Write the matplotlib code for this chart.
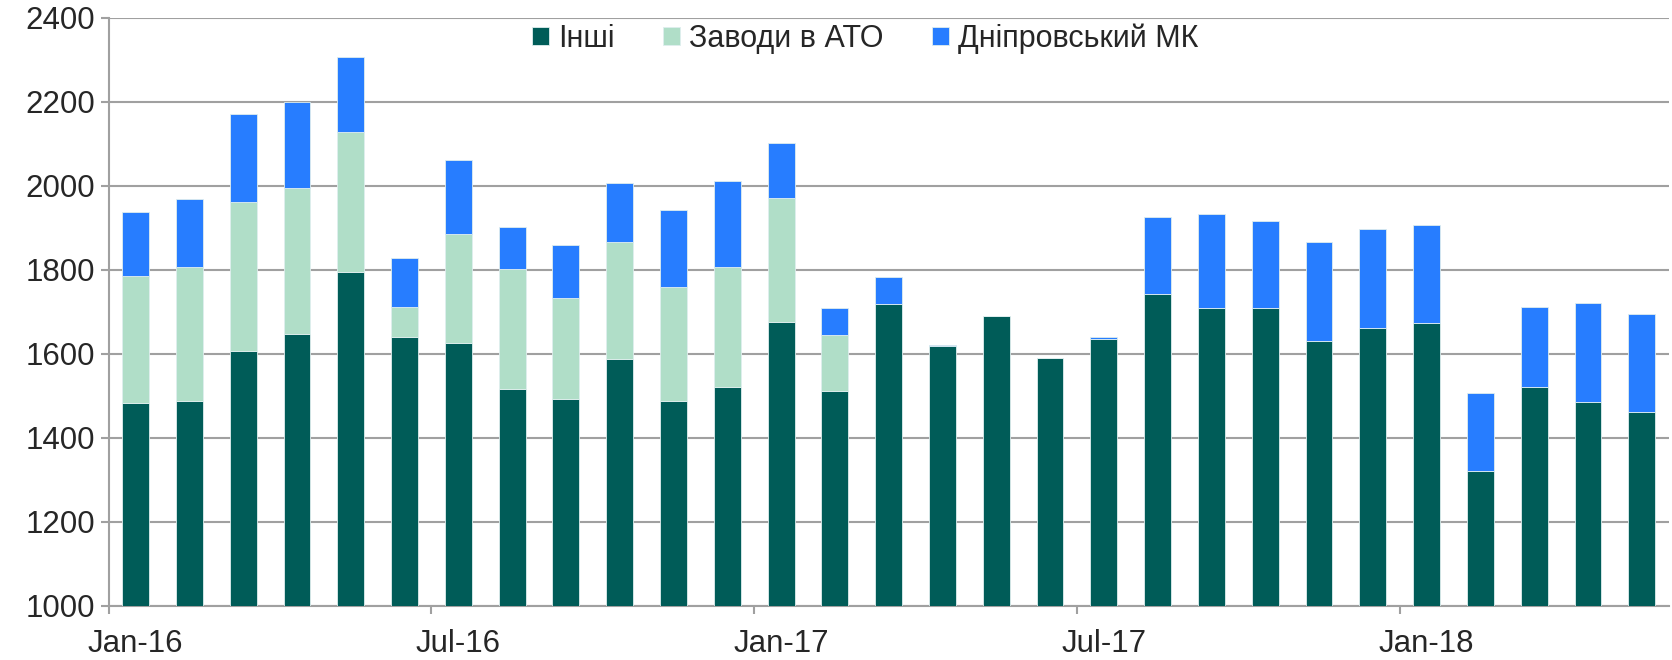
"""
Stacked monthly bars: Інші / Заводи в АТО / Дніпровський МК
"""
import numpy as np
import matplotlib
matplotlib.use("Agg")
import matplotlib.pyplot as plt

plt.rcParams['font.family'] = ['Liberation Sans', 'DejaVu Sans']

INSHI_COLOR = "#005c58"
ATO_COLOR = "#b0dec8"
DMK_COLOR = "#277dff"
GRID_COLOR = "#a0a0a0"
TEXT_COLOR = "#262626"

months = ["Jan-16", "Feb-16", "Mar-16", "Apr-16", "May-16", "Jun-16",
          "Jul-16", "Aug-16", "Sep-16", "Oct-16", "Nov-16", "Dec-16",
          "Jan-17", "Feb-17", "Mar-17", "Apr-17", "May-17", "Jun-17",
          "Jul-17", "Aug-17", "Sep-17", "Oct-17", "Nov-17", "Dec-17",
          "Jan-18", "Feb-18", "Mar-18", "Apr-18", "May-18"]

inshi = [1484, 1487, 1606, 1647, 1794, 1641, 1625, 1516, 1493, 1587,
         1487, 1522, 1675, 1512, 1718, 1619, 1689, 1590, 1635, 1743,
         1709, 1709, 1630, 1661, 1673, 1320, 1520, 1485, 1461]

zavody_ato = [302, 319, 356, 349, 334, 71, 261, 285, 241, 279,
              272, 284, 297, 132, 0, 0, 0, 0, 0, 0,
              0, 0, 0, 0, 0, 0, 0, 0, 0]

dnipro_mk = [152, 163, 210, 204, 179, 117, 176, 101, 125, 141,
             184, 206, 131, 66, 65, 3, 0, 0, 6, 184,
             225, 208, 237, 236, 234, 186, 191, 236, 234]

tick_labels = ["Jan-16", "Jul-16", "Jan-17", "Jul-17", "Jan-18"]

fig = plt.figure(figsize=(16.72, 6.6), dpi=100)
ax = fig.add_axes([0.065, 0.082, 0.933, 0.891])

x = np.arange(len(months)) + 0.5
inshi = np.array(inshi)
ato = np.array(zavody_ato)
dmk = np.array(dnipro_mk)

edge = dict(edgecolor="#dfeeee", linewidth=0.6)
ax.bar(x, inshi - 1000, 0.5, bottom=1000, color=INSHI_COLOR, label="Інші", zorder=3, **edge)
ax.bar(x, ato, 0.5, bottom=inshi, color=ATO_COLOR, label="Заводи в АТО", zorder=3, **edge)
ax.bar(x, dmk, 0.5, bottom=inshi + ato, color=DMK_COLOR, label="Дніпровський МК", zorder=3, **edge)

ax.set_xlim(0, len(months))
ax.set_ylim(1000, 2400)
ax.set_yticks(np.arange(1000, 2401, 200))

# tick marks at month start, labels centred on the month's bar
pos = [months.index(m) for m in tick_labels]
ax.set_xticks(pos)
ax.set_xticklabels([])
ax.set_xticks([p + 0.5 for p in pos], minor=True)
ax.set_xticklabels(tick_labels, minor=True)

ax.grid(axis="y", color=GRID_COLOR, linewidth=1.5, zorder=0)
for side in ("top", "right"):
    ax.spines[side].set_visible(False)
for side in ("left", "bottom"):
    ax.spines[side].set_color(GRID_COLOR)
    ax.spines[side].set_linewidth(1.5)

ax.tick_params(axis="both", which="both", colors=GRID_COLOR, labelcolor=TEXT_COLOR,
               labelsize=22.5, length=6, width=1.5)
ax.tick_params(axis="x", which="minor", length=0, pad=17)
ax.tick_params(axis="y", pad=4)

ax.legend(loc="center", bbox_to_anchor=(0.485, 0.965), ncol=3, frameon=False,
          fontsize=22, handlelength=0.55, handleheight=0.55,
          handletextpad=0.3, columnspacing=1.6, labelcolor=TEXT_COLOR)

fig.savefig("out.png", dpi=100)
